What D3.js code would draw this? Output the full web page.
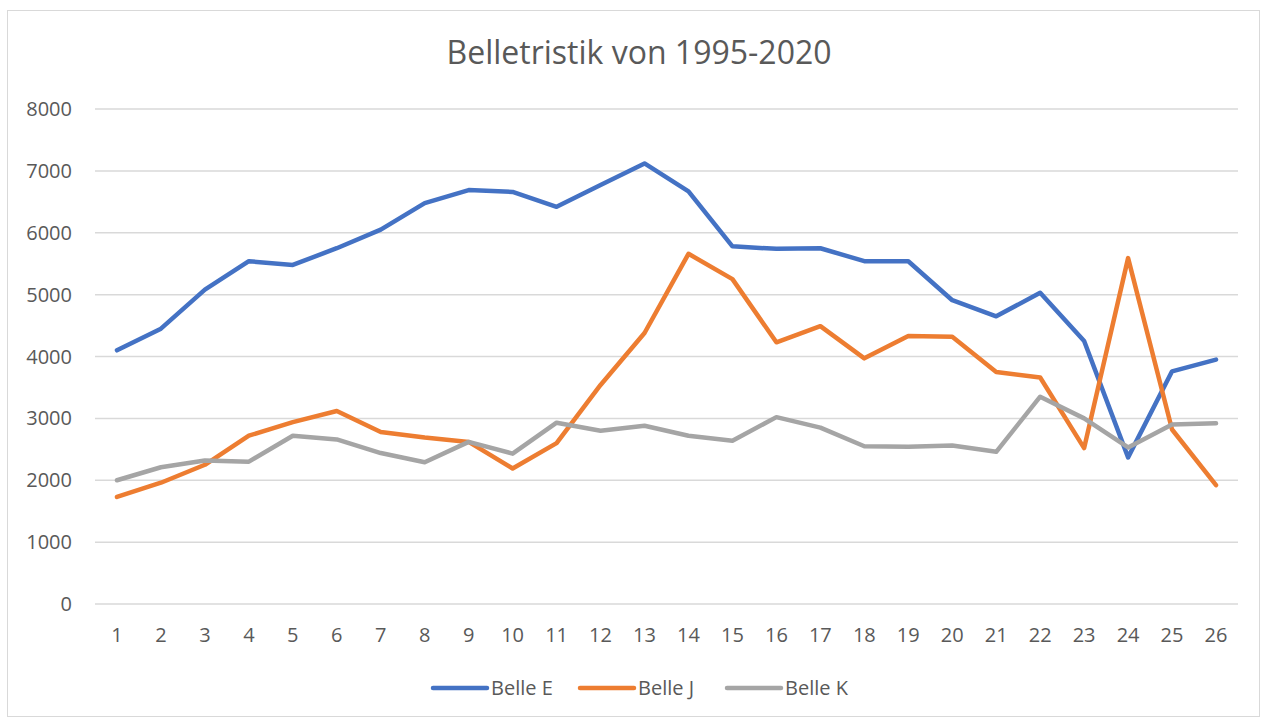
<!DOCTYPE html>
<html>
<head>
<meta charset="utf-8">
<script src="https://cdn.jsdelivr.net/npm/d3@7"></script>
<style>
  body { margin: 0; background: #fff; }
  text { font-family: "Open Sans", "Noto Sans", sans-serif; fill: #595959; }
</style>
</head>
<body>
<svg width="1266" height="720"></svg>
<script>
var categories = d3.range(1, 27);
var belleE = [4100, 4450, 5080, 5540, 5480, 5750, 6050, 6480, 6690, 6660, 6420, 6770, 7120, 6670, 5780, 5740, 5750, 5540, 5540, 4910, 4650, 5030, 4250, 2370, 3760, 3950];
var belleJ = [1730, 1960, 2250, 2720, 2940, 3120, 2780, 2690, 2620, 2190, 2600, 3540, 4380, 5660, 5250, 4230, 4490, 3970, 4330, 4320, 3750, 3660, 2520, 5590, 2820, 1920];
var belleK = [2000, 2210, 2320, 2300, 2720, 2660, 2440, 2290, 2620, 2430, 2930, 2800, 2880, 2720, 2640, 3020, 2850, 2550, 2540, 2560, 2460, 3350, 3000, 2530, 2900, 2920];
var yTicks = [0, 1000, 2000, 3000, 4000, 5000, 6000, 7000, 8000];

var series = [
  {name: "Belle E", values: belleE, color: "#4472C4"},
  {name: "Belle J", values: belleJ, color: "#ED7D31"},
  {name: "Belle K", values: belleK, color: "#A5A5A5"}
];

var svg = d3.select("svg");

// outer chart border
svg.append("rect")
    .attr("x", 7.5).attr("y", 10.5)
    .attr("width", 1252).attr("height", 706)
    .attr("fill", "#fff").attr("stroke", "#D9D9D9").attr("stroke-width", 1);

svg.append("text")
    .attr("x", 639).attr("y", 64)
    .attr("text-anchor", "middle")
    .attr("font-size", 32)
    .text("Belletristik von 1995-2020");

var x = d3.scalePoint().domain(categories).range([95, 1238]).padding(0.5);
var y = d3.scaleLinear().domain([0, 8000]).range([604, 109]);

// gridlines
svg.append("g").selectAll("line")
    .data(yTicks)
    .join("line")
    .attr("x1", 95).attr("x2", 1238)
    .attr("y1", d => y(d)).attr("y2", d => y(d))
    .attr("stroke", "#D9D9D9").attr("stroke-width", 1.5);

// y labels
svg.append("g").selectAll("text")
    .data(yTicks)
    .join("text")
    .attr("x", 72).attr("y", d => y(d))
    .attr("dy", "0.35em")
    .attr("text-anchor", "end")
    .attr("font-size", 20)
    .text(d => d);

// x labels
svg.append("g").selectAll("text")
    .data(categories)
    .join("text")
    .attr("x", d => x(d)).attr("y", 635)
    .attr("dy", "0.35em")
    .attr("text-anchor", "middle")
    .attr("font-size", 20)
    .text(d => d);

var line = d3.line()
    .x((d, i) => x(categories[i]))
    .y(d => y(d));

svg.append("g").selectAll("path")
    .data(series)
    .join("path")
    .attr("d", d => line(d.values))
    .attr("fill", "none")
    .attr("stroke", d => d.color)
    .attr("stroke-width", 4.5)
    .attr("stroke-linejoin", "round")
    .attr("stroke-linecap", "round");

// legend
var legend = svg.append("g").selectAll("g")
    .data(series)
    .join("g")
    .attr("transform", (d, i) => "translate(" + (433 + i * 147) + ",688)");

legend.append("line")
    .attr("x1", 0).attr("x2", 54)
    .attr("stroke", d => d.color)
    .attr("stroke-width", 4.5)
    .attr("stroke-linecap", "round");

legend.append("text")
    .attr("x", 58).attr("dy", "0.35em")
    .attr("font-size", 20)
    .text(d => d.name);
</script>
</body>
</html>
